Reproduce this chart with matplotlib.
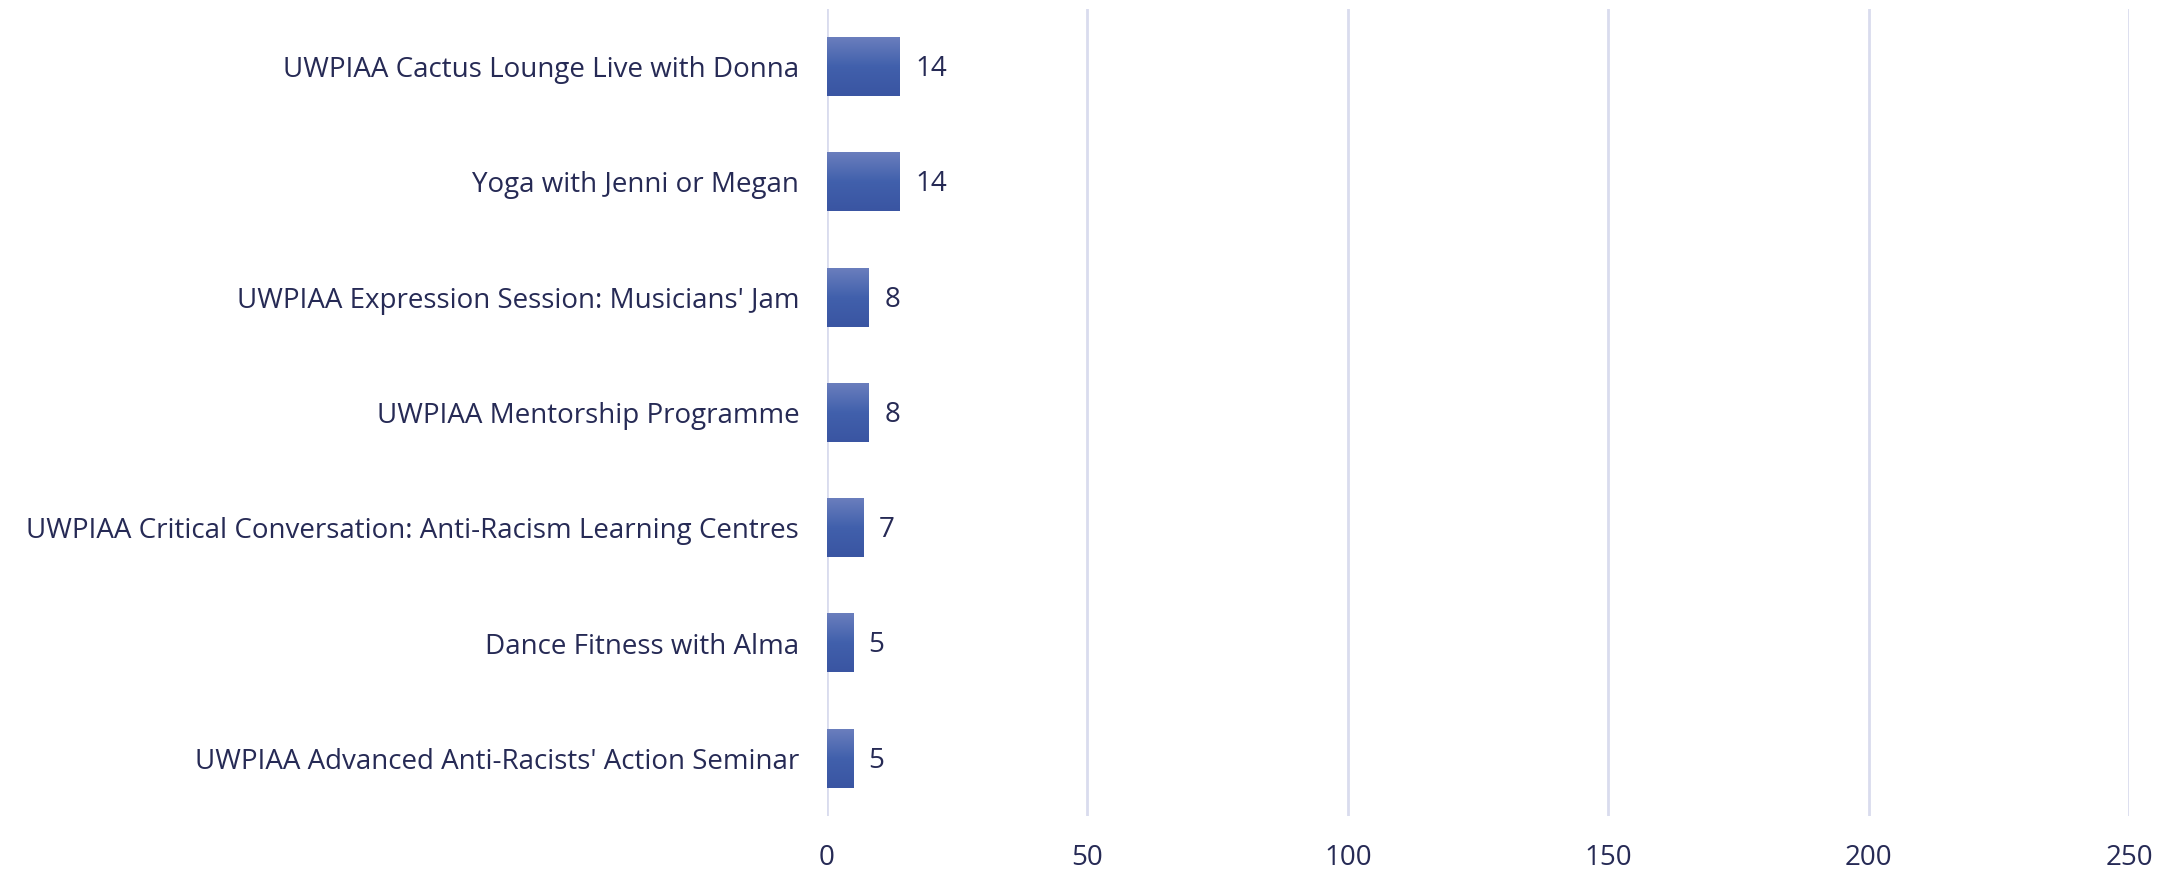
import numpy as np
import matplotlib.pyplot as plt
from matplotlib.colors import LinearSegmentedColormap

# sessions, listed top to bottom as in the chart
sessions = [
    "UWPIAA Cactus Lounge Live with Donna",
    "Yoga with Jenni or Megan",
    "UWPIAA Expression Session: Musicians' Jam",
    "UWPIAA Mentorship Programme",
    "UWPIAA Critical Conversation: Anti-Racism Learning Centres",
    "Dance Fitness with Alma",
    "UWPIAA Advanced Anti-Racists' Action Seminar",
]
counts = [14, 14, 8, 8, 7, 5, 5]
xticks = [0, 50, 100, 150, 200, 250]

text_col = "#262A55"
grid_col = "#D9DCEE"
bar_cmap = LinearSegmentedColormap.from_list("bar", ["#6A7EBD", "#4160AC", "#3A55A2"])

plt.rcParams['font.family'] = ['Open Sans', 'DejaVu Sans']

fig = plt.figure(figsize=(21.8, 8.72), dpi=100)
ax = fig.add_axes([827 / 2180, 56 / 872, (2129 - 827) / 2180, (816 - 9) / 872])

n = len(sessions)
ypos = np.arange(n)[::-1]
h = 0.51

# plain bars first (for the axes scale), then gradient fill on top
ax.barh(ypos, counts, height=h, color="#4160AC", zorder=2)
grad = np.linspace(0, 1, 100).reshape(-1, 1)
for y, v in zip(ypos, counts):
    ax.imshow(grad, cmap=bar_cmap, aspect='auto', origin='upper',
              extent=(0, v, y - h / 2, y + h / 2), zorder=3)
    ax.text(v + 3.0, y - 0.02, str(v), va='center', ha='left',
            fontsize=20, color=text_col, zorder=4)

ax.set_xlim(0, 250)
ax.set_ylim(-0.5, n - 0.5)
ax.set_xticks(xticks)
ax.set_xticklabels([str(t) for t in xticks], fontsize=20, color=text_col)
ax.set_yticks(ypos)
ax.set_yticklabels(sessions, fontsize=20, color=text_col)
ax.tick_params(axis='both', length=0)
ax.tick_params(axis='x', pad=20)
ax.tick_params(axis='y', pad=20)

ax.grid(axis='x', color=grid_col, linewidth=2, zorder=0)
for s in ax.spines.values():
    s.set_visible(False)
ax.set_axisbelow(True)

fig.savefig("out.png", dpi=100)
